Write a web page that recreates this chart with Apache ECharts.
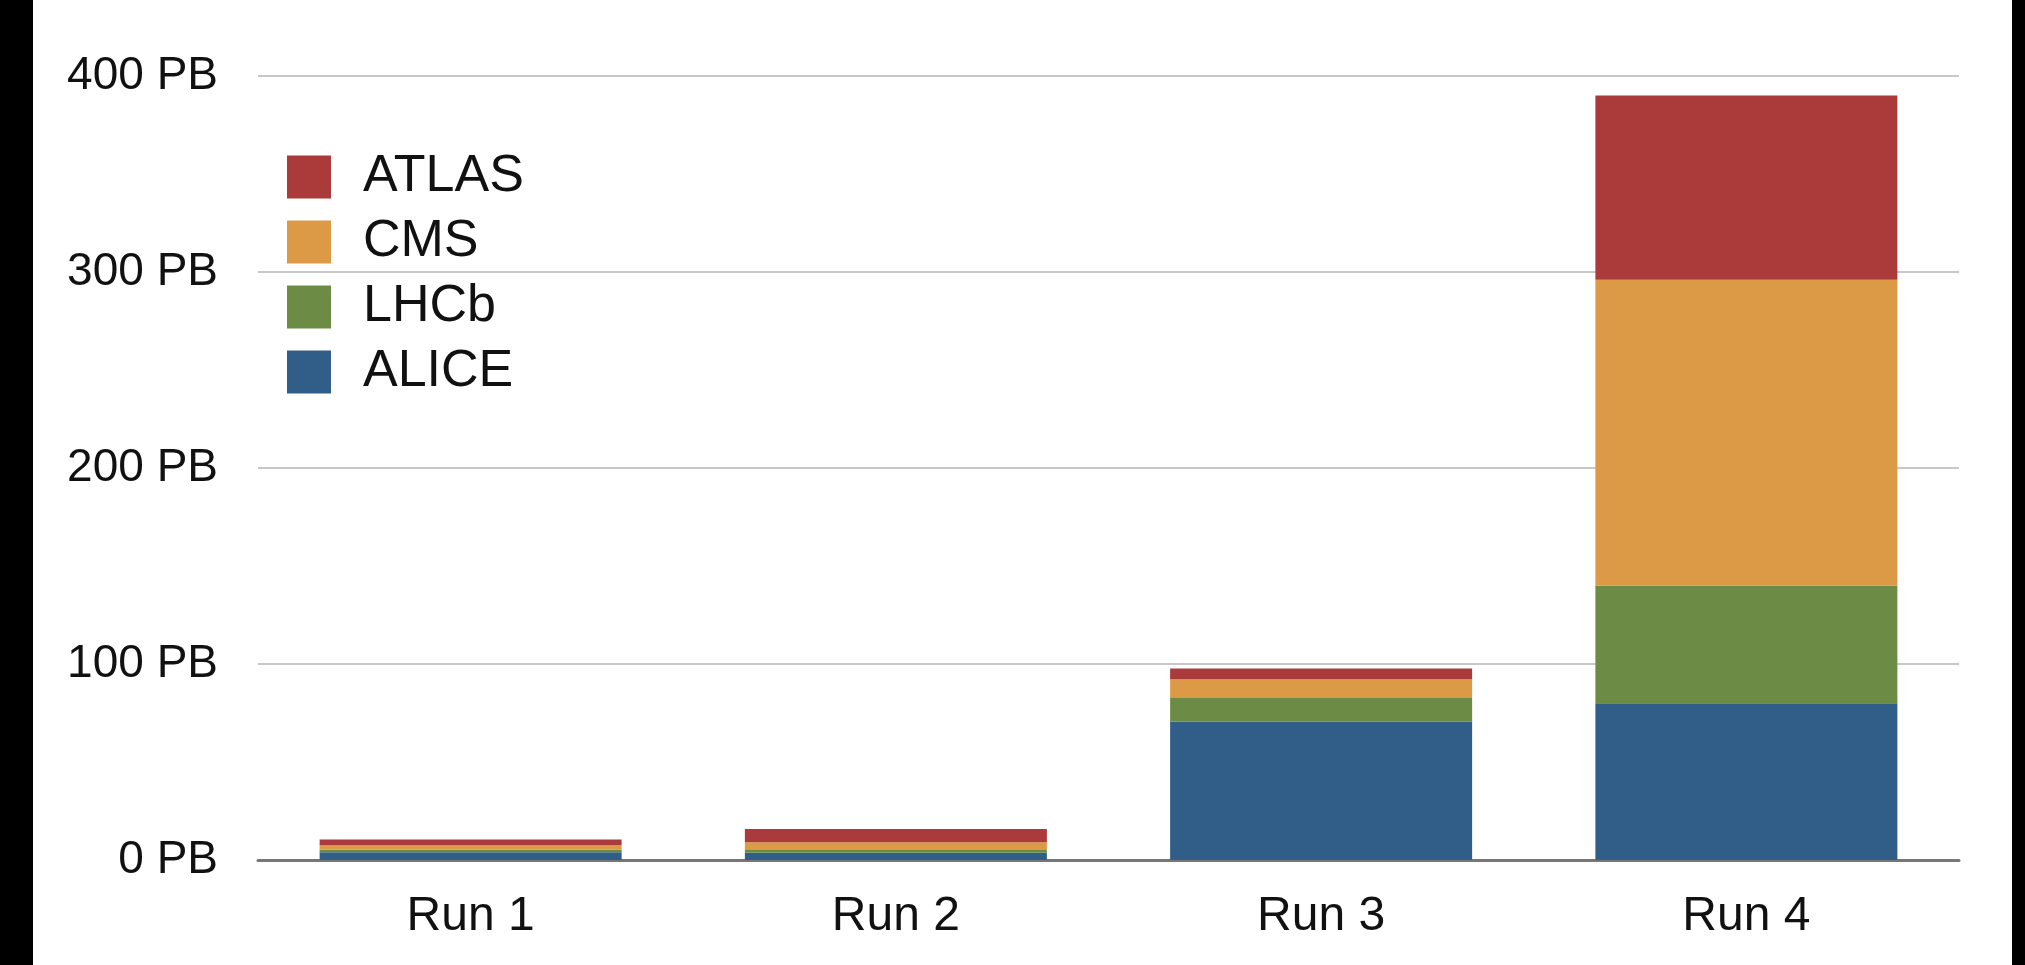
<!DOCTYPE html>
<html>
<head>
<meta charset="utf-8">
<script src="https://cdn.jsdelivr.net/npm/echarts@6/dist/echarts.min.js"></script>
<style>
  html, body { margin: 0; padding: 0; background: #000; }
  #chart { position: absolute; left: 33px; top: 0; width: 1979px; height: 965px; background: #fff; }
</style>
</head>
<body>
<div id="chart"></div>
<script>
const categories = ['Run 1', 'Run 2', 'Run 3', 'Run 4']
// values in PB, stacked bottom to top
const alice = [4, 3.7, 70.7, 80]
const lhcb = [1.2, 1.4, 12, 60]
const cms = [2.5, 3.9, 9.5, 156]
const atlas = [2.8, 6.8, 5.5, 94]
const legendOrder = ['ATLAS', 'CMS', 'LHCb', 'ALICE']

const font = "'Liberation Sans', Helvetica, Arial, sans-serif"

const chart = echarts.init(document.getElementById('chart'))

function bar(name, data, color) {
  return {
    name: name,
    type: 'bar',
    stack: 'total',
    barWidth: 302,
    data: data,
    itemStyle: { color: color },
    emphasis: { disabled: true }
  }
}

chart.setOption({
  animation: false,
  backgroundColor: '#fff',
  grid: {
    left: 225,
    right: 53,
    top: 76,
    bottom: 105,
    containLabel: false
  },
  legend: {
    orient: 'vertical',
    left: 249,
    top: 146,
    data: legendOrder,
    icon: 'rect',
    itemWidth: 44,
    itemHeight: 43,
    itemGap: 13,
    textStyle: {
      fontFamily: font,
      fontSize: 52,
      color: '#111',
      padding: [0, 0, 0, 27]
    }
  },
  xAxis: {
    type: 'category',
    data: categories,
    axisTick: { show: false },
    axisLine: { lineStyle: { color: '#777', width: 3 } },
    axisLabel: {
      fontFamily: font,
      fontSize: 48,
      color: '#111',
      margin: 33
    }
  },
  yAxis: {
    type: 'value',
    min: 0,
    max: 400,
    interval: 100,
    axisLine: { show: false },
    axisTick: { show: false },
    axisLabel: {
      fontFamily: font,
      fontSize: 46,
      color: '#111',
      margin: 40,
      formatter: '{value} PB'
    },
    splitLine: { lineStyle: { color: '#c8c8c8', width: 2 } }
  },
  series: [
    bar('ALICE', alice, '#315d89'),
    bar('LHCb', lhcb, '#6c8c46'),
    bar('CMS', cms, '#dc9a47'),
    bar('ATLAS', atlas, '#ab3b3a')
  ]
})
</script>
</body>
</html>
